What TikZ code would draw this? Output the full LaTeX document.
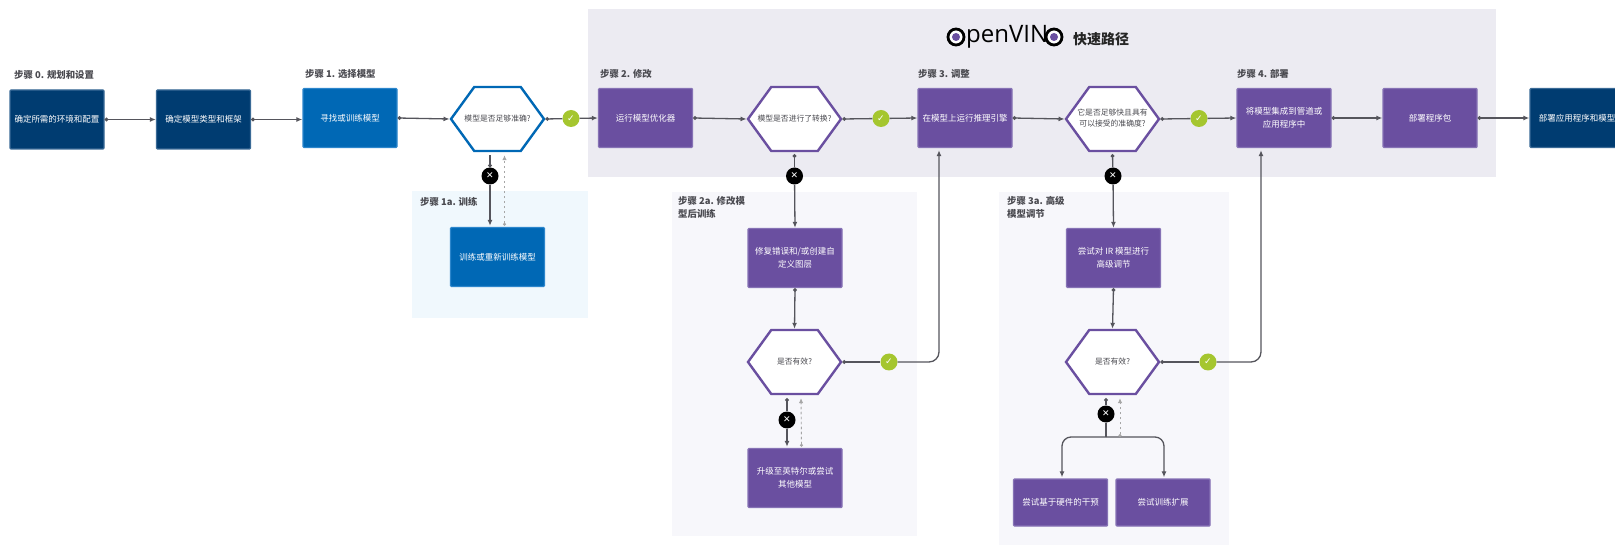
\documentclass[tikz,border=0pt]{standalone}
\usepackage{fontspec}
\setmainfont{Noto Sans CJK SC}
\newfontfamily\djv{DejaVu Sans}
\newfontfamily\logofont{Open Sans}
\usetikzlibrary{shapes.symbols,shapes.geometric,arrows.meta,calc}
\newcommand{\hextext}[1]{\makebox[0pt][c]{\begin{tabular}{@{}c@{}}#1\end{tabular}}}
\definecolor{navy}{HTML}{003C71}
\definecolor{navyb}{HTML}{3A6A96}
\definecolor{blu}{HTML}{0068B5}
\definecolor{blub}{HTML}{2C86CC}
\definecolor{purp}{HTML}{6A4FA0}
\definecolor{purpb}{HTML}{8672B5}
\definecolor{okc}{HTML}{A5C62F}
\definecolor{wire}{HTML}{55555C}
\definecolor{pgray}{HTML}{ECEBF2}
\definecolor{pblue}{HTML}{F0F8FD}
\definecolor{plight}{HTML}{F7F7FB}
\definecolor{headc}{HTML}{4A4A50}
\tikzset{
  x=1pt,y=-1pt,
  boxbase/.style={rectangle,rounded corners=1pt,inner sep=1pt,line width=1.4pt,text=white,font=\fontsize{8.5}{12.5}\selectfont,align=center,minimum width=94pt,minimum height=59pt},
  navybox/.style={boxbase,fill=navy,draw=navyb},
  bluebox/.style={boxbase,fill=blu,draw=blub},
  purpbox/.style={boxbase,fill=purp,draw=purpb},
  hexbase/.style={shape=signal,signal to=east and west,signal pointer angle=108,fill=white,line width=2.4pt,inner sep=0pt,minimum width=93pt,minimum height=64pt,text=headc,font=\fontsize{7.8}{10.5}\selectfont},
  bluehex/.style={hexbase,draw=blu},
  purphex/.style={hexbase,draw=purp},
  okmark/.style={circle,fill=okc,text=white,inner sep=0pt,minimum size=17pt,font=\djv\fontsize{9}{9}\selectfont},
  nomark/.style={circle,fill=black,text=white,inner sep=0pt,minimum size=17pt,font=\djv\bfseries\fontsize{9}{9}\selectfont},
  head/.style={anchor=north west,inner sep=0pt,text=headc,font=\bfseries\fontsize{9.4}{13.5}\selectfont,align=left},
  panel/.style={rectangle,inner sep=0pt,draw=none},
  wirebase/.style={draw=wire,line width=1.3pt},
  flow/.style={wirebase,{Circle[length=3.6pt,width=3.6pt]}-{Latex[length=6pt,width=5pt]}},
  plain/.style={wirebase,{Circle[length=3.6pt,width=3.6pt]}-},
  onward/.style={wirebase,-{Latex[length=6pt,width=5pt]}},
  backdash/.style={draw=gray!70,line width=.9pt,dashed,dash pattern=on 2.5pt off 2.5pt,{Circle[length=3pt,width=3pt]}-{Latex[length=5pt,width=4.5pt]}}
}
\begin{document}
\begin{tikzpicture}
\path[use as bounding box] (0,0) rectangle (1615,545);
% panels
\node[panel,fill=pgray,minimum width=908pt,minimum height=168pt] (pg) at (1042,93) {};
\node[panel,fill=pblue,minimum width=176pt,minimum height=127pt] (pb) at (500,254.5) {};
\node[panel,fill=plight,minimum width=245pt,minimum height=344pt] (p2) at (794.5,364) {};
\node[panel,fill=plight,minimum width=230pt,minimum height=353pt] (p3) at (1114,368.5) {};
% logo
\node[circle,draw=black,line width=2.8pt,fill=white,minimum size=16pt,inner sep=0pt] (lo1) at (956,37) {};
\node[circle,fill=purp,minimum size=8pt,inner sep=0pt] (ld1) at (956,37) {};
\node[anchor=west,inner sep=0pt,font=\logofont\fontsize{24}{24}\selectfont,text=black] (lt) at (966,36.5) {penVIN};
\node[circle,draw=black,line width=2.8pt,fill=white,minimum size=16pt,inner sep=0pt] (lo2) at (1054,37) {};
\node[circle,fill=purp,minimum size=8pt,inner sep=0pt] (ld2) at (1054,37) {};
\node[anchor=west,inner sep=0pt,font=\bfseries\fontsize{14}{14}\selectfont,text=black!85] (lttl) at (1073,39) {快速路径};
% headings
\node[head] (h0) at (14,70) {步骤 0. 规划和设置};
\node[head] (h1) at (305,69) {步骤 1. 选择模型};
\node[head] (h1a) at (420,197) {步骤 1a. 训练};
\node[head] (h2) at (600,69) {步骤 2. 修改};
\node[head] (h2a) at (678,196) {步骤 2a. 修改模\\型后训练};
\node[head] (h3) at (918,69) {步骤 3. 调整};
\node[head] (h3a) at (1007,196) {步骤 3a. 高级\\模型调节};
\node[head] (h4) at (1237,69) {步骤 4. 部署};
% main row
\node[navybox] (b1) at (57,119.5) {确定所需的环境和配置};
\node[navybox] (b2) at (203.5,119.5) {确定模型类型和框架};
\node[bluebox] (b3) at (350,118) {寻找或训练模型};
\node[bluehex] (x1) at (497.5,119) {\hextext{模型是否足够准确?}};
\node[purpbox] (b4) at (645.5,118) {运行模型优化器};
\node[purphex] (x2) at (794.5,119) {\hextext{模型是否进行了转换?}};
\node[purpbox] (b5) at (965,118) {在模型上运行推理引擎};
\node[purphex] (x3) at (1112.5,119) {\hextext{它是否足够快且具有\\可以接受的准确度?}};
\node[purpbox] (b6) at (1284,118) {将模型集成到管道或\\应用程序中};
\node[purpbox] (b7) at (1430,118) {部署程序包};
\node[navybox] (b8) at (1577,118) {部署应用程序和模型};
% lower
\node[bluebox] (b1a) at (497.5,257) {训练或重新训练模型};
\node[purpbox] (c1) at (795,258) {修复错误和/或创建自\\定义图层};
\node[purphex] (c2) at (794.5,362) {\hextext{是否有效?}};
\node[purpbox] (c3) at (795,478) {升级至英特尔或尝试\\其他模型};
\node[purpbox] (d1) at (1113.5,258) {尝试对 IR 模型进行\\高级调节};
\node[purphex] (d2) at (1112.5,362) {\hextext{是否有效?}};
\node[purpbox,minimum height=47pt] (d3) at (1060.5,502.5) {尝试基于硬件的干预};
\node[purpbox,minimum height=47pt] (d4) at (1163,502.5) {尝试训练扩展};
% marks
\node[okmark] (k1) at (571,118.5) {✓};
\node[okmark] (k2) at (881,118.5) {✓};
\node[okmark] (k3) at (1199,118.5) {✓};
\node[okmark] (k4) at (889,362) {✓};
\node[okmark] (k5) at (1208,362) {✓};
\node[nomark] (n1) at (490,176) {✕};
\node[nomark] (n2) at (794.5,176) {✕};
\node[nomark] (n3) at (1113,176) {✕};
\node[nomark] (n4) at (787,420) {✕};
\node[nomark] (n5) at (1106,414) {✕};
\coordinate (fork) at (1106,437);
% connectors: main row
\draw[flow] (b1.east) -- (b2.west);
\draw[flow] (b2.east) -- (b3.west |- b2.east);
\draw[flow] (b3.east) -- (x1.west);
\draw[plain] (x1.east) -- (k1);
\draw[onward] (k1) -- (b4.west);
\draw[flow] (b4.east) -- (x2.west);
\draw[plain] (x2.east) -- (k2);
\draw[onward] (k2) -- (b5.west);
\draw[flow] (b5.east) -- (x3.west);
\draw[plain] (x3.east) -- (k3);
\draw[onward] (k3) -- (b6.west);
\draw[flow] (b6.east) -- (b7.west);
\draw[flow] (b7.east) -- (b8.west);
% step 1a
\draw[plain] (n1) -- ($(x1.south)+(-7.5,3)$);
\draw[onward] (n1) -- ($(b1a.north)+(-7.5,-1)$);
\draw[backdash] ($(b1a.north)+(7,-1)$) -- ($(x1.south)+(7,3)$);
% step 2a
\draw[plain] ($(x2.south)+(0,2)$) -- (n2);
\draw[onward] (n2) -- (c1.north);
\draw[flow] (c1.south) -- (c2.north);
\draw[plain] (c2.east) -- (k4);
\draw[wirebase,-{Latex[length=6pt,width=5pt]},rounded corners=10pt] (k4) -| ($(b5.south)+(-26,2)$);
\draw[plain] ($(c2.south)+(-7.5,3)$) -- (n4);
\draw[onward] (n4) -- ($(c3.north)+(-8,-1)$);
\draw[backdash] ($(c3.north)+(6.5,-1)$) -- ($(c2.south)+(6.5,3)$);
% step 3a
\draw[plain] ($(x3.south)+(0,2)$) -- (n3);
\draw[onward] (n3) -- (d1.north);
\draw[flow] (d1.south) -- (d2.north);
\draw[plain] (d2.east) -- (k5);
\draw[wirebase,-{Latex[length=6pt,width=5pt]},rounded corners=10pt] (k5) -| ($(b6.south)+(-23,2)$);
\draw[plain] ($(d2.south)+(-6.5,3)$) -- (n5);
\draw[wirebase] (n5) -- (fork);
\draw[onward,rounded corners=9pt] (fork) -| ($(d3.north)+(1.5,-1)$);
\draw[onward,rounded corners=9pt] (fork) -| ($(d4.north)+(1,-1)$);
\draw[backdash] ($(fork)+(14,0)$) -- ($(d2.south)+(7.5,3)$);
\end{tikzpicture}
\end{document}
